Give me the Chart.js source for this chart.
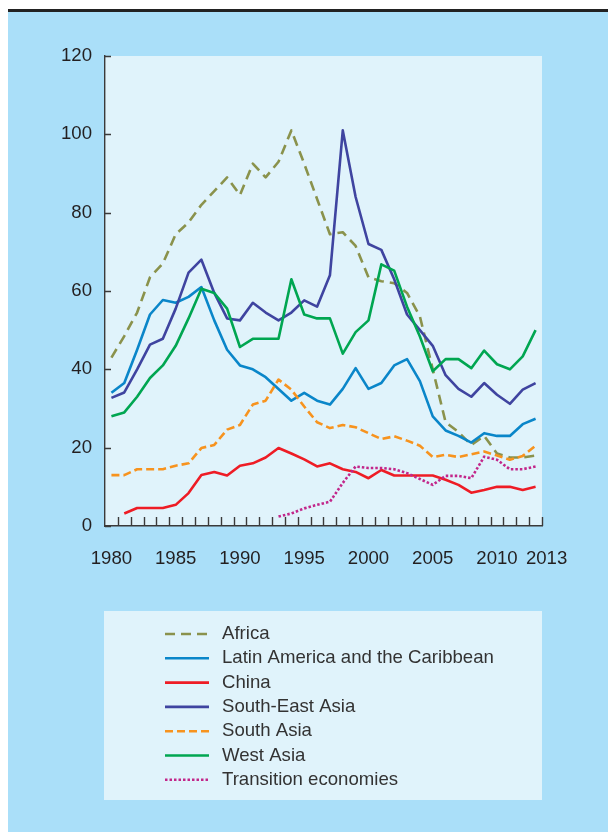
<!DOCTYPE html>
<html>
<head>
<meta charset="utf-8">
<script src="https://cdn.jsdelivr.net/npm/chart.js@4.4.1/dist/chart.umd.min.js"></script>
<style>
html, body { margin: 0; padding: 0; background: #ffffff; }
canvas { display: block; }
</style>
</head>
<body>
<canvas id="chart" width="608" height="832"></canvas>
<script>
const years = ['1980','1981','1982','1983','1984','1985','1986','1987','1988','1989',
               '1990','1991','1992','1993','1994','1995','1996','1997','1998','1999',
               '2000','2001','2002','2003','2004','2005','2006','2007','2008','2009',
               '2010','2011','2012','2013'];
const xTickLabels = ['1980','1985','1990','1995','2000','2005','2010','2013'];
const yTicks = [0, 20, 40, 60, 80, 100, 120];

const africa = [43, 48.5, 54.5, 63.5, 67, 74.5, 77.5, 82, 85.5, 89,
                84.5, 92.5, 89, 93, 101, 92.5, 83.5, 74.5, 75, 71.5,
                63.5, 62.5, 62, 59.5, 53.5, 40, 26.5, 24, 20.7, 23,
                18.5, 17.5, 17.5, 18];
const latinAmerica = [34, 36.5, 45, 54, 57.7, 57, 58.5, 61, 52.5, 45,
                      41, 40, 38, 35, 32, 34, 32, 31, 35, 40.3,
                      35, 36.5, 41, 42.6, 37, 28, 24.4, 23, 21.3, 23.7,
                      23, 23, 26, 27.4];
const china = [null, 3.2, 4.6, 4.6, 4.6, 5.4, 8.4, 13, 13.8, 12.9,
               15.4, 16, 17.5, 19.9, 18.5, 17, 15.2, 16, 14.5, 13.8,
               12.2, 14.3, 12.9, 12.9, 12.9, 12.9, 11.8, 10.5, 8.5, 9.2,
               10, 10, 9.2, 10];
const southEastAsia = [32.7, 34.1, 40, 46.3, 47.8, 55.5, 64.7, 68, 59.5, 53,
                       52.5, 57, 54.5, 52.5, 54.5, 57.6, 56, 64, 101, 84,
                       72, 70.5, 63, 54, 50, 46, 38.5, 35, 33, 36.5,
                       33.5, 31.2, 34.8, 36.5];
const southAsia = [13, 13, 14.5, 14.5, 14.5, 15.4, 16, 19.9, 20.7, 24.6,
                   25.8, 31, 32, 37.4, 34.8, 30.5, 26.5, 25, 25.8, 25.2,
                   23.7, 22.2, 22.9, 21.8, 20.5, 17.6, 18.2, 17.6, 18.3, 19,
                   18, 16.9, 17.9, 20.5];
const westAsia = [28, 29, 33, 37.8, 41, 46, 53, 60.6, 59.5, 55.5,
                  45.7, 47.8, 47.8, 47.8, 63, 54, 53, 53, 44, 49.5,
                  52.5, 66.8, 65.2, 56, 48.4, 39.5, 42.6, 42.6, 40.3, 44.8,
                  41.3, 40, 43.3, 50];
const transition = [null, null, null, null, null, null, null, null, null, null,
                    null, null, null, 2.4, 3.2, 4.5, 5.4, 6.2, 11, 15.2,
                    14.8, 14.8, 14.5, 13.5, 12, 10.5, 12.8, 12.8, 12.2, 17.7,
                    16.9, 14.5, 14.5, 15.2];

const FONT = "'Liberation Sans', Arial, sans-serif";
const FONT_SIZE = 18.6;
const OUTER_BG = '#aadff9';
const INNER_BG = '#e0f3fb';
const AXIS = '#3a3a3a';

function series(label, data, color, dash, order) {
    return {
        label: label,
        data: data,
        borderColor: color,
        backgroundColor: color,
        borderWidth: 2.6,
        borderDash: dash,
        borderJoinStyle: 'round',
        pointRadius: 0,
        tension: 0,
        fill: false,
        order: order
    };
}

// backgrounds, axis ticks, x labels and legend
const decor = {
    id: 'decor',
    beforeDraw(chart) {
        const ctx = chart.ctx;
        const a = chart.chartArea;
        ctx.save();
        ctx.fillStyle = '#ffffff';
        ctx.fillRect(0, 0, chart.width, chart.height);
        ctx.fillStyle = OUTER_BG;
        ctx.fillRect(8, 12, chart.width - 8, chart.height - 12);
        ctx.fillStyle = '#222222';
        ctx.fillRect(8, 9, chart.width - 8, 3);
        ctx.fillStyle = INNER_BG;
        ctx.fillRect(a.left, a.top, a.right - a.left, a.bottom - a.top);
        ctx.fillRect(104, 611, a.right - 104, 189);
        ctx.restore();
    },
    afterDraw(chart) {
        const ctx = chart.ctx;
        const x = chart.scales.x;
        const y = chart.scales.y;
        ctx.save();
        ctx.strokeStyle = AXIS;
        ctx.lineWidth = 1.4;
        ctx.beginPath();
        yTicks.forEach(v => {
            const py = Math.round(y.getPixelForValue(v)) + 0.5;
            ctx.moveTo(x.left, py);
            ctx.lineTo(x.left + 6, py);
        });
        const band = x.getPixelForValue(1) - x.getPixelForValue(0);
        for (let i = 1; i <= years.length; i++) {
            const px = Math.round(x.getPixelForValue(i) - band / 2) + 0.5;
            ctx.moveTo(px, y.bottom);
            ctx.lineTo(px, y.bottom - 9);
        }
        ctx.stroke();

        ctx.fillStyle = '#231f20';
        ctx.font = FONT_SIZE + 'px ' + FONT;
        ctx.textAlign = 'center';
        ctx.textBaseline = 'middle';
        xTickLabels.forEach(lab => {
            let px = x.getPixelForValue(years.indexOf(lab));
            if (lab === '2013') px += 11;
            ctx.fillText(lab, px, y.bottom + 33);
        });

        // legend
        ctx.textAlign = 'left';
        ctx.fillStyle = '#333333';
        chart.data.datasets.forEach((ds, i) => {
            const ly = 634 + i * 24.3;
            ctx.strokeStyle = ds.borderColor;
            ctx.lineWidth = ds.borderWidth;
            ctx.setLineDash(ds.borderDash || []);
            ctx.beginPath();
            ctx.moveTo(165, ly);
            ctx.lineTo(209, ly);
            ctx.stroke();
            ctx.setLineDash([]);
            ctx.fillText(ds.label, 222, ly);
        });
        ctx.restore();
    }
};

const data = {
    labels: years,
    datasets: [
        series('Africa', africa, '#8a924c', [10, 6], 6),
        series('Latin America and the Caribbean', latinAmerica, '#0a86c9', [], 5),
        series('China', china, '#ee1c25', [], 4),
        series('South-East Asia', southEastAsia, '#3f44a0', [], 3),
        series('South Asia', southAsia, '#f7931e', [8, 4], 2),
        series('West Asia', westAsia, '#00a651', [], 1),
        series('Transition economies', transition, '#c2268a', [2.5, 2], 0)
    ]
};

const config = {
    type: 'line',
    data: data,
    options: {
        responsive: false,
        animation: false,
        devicePixelRatio: 1,
        layout: {
            padding: { left: 0, top: 56, right: 66, bottom: 0 }
        },
        scales: {
            x: {
                type: 'category',
                offset: true,
                grid: { display: false },
                border: { display: true, color: AXIS, width: 1.4 },
                ticks: { display: false },
                afterFit(scale) { scale.height = 306; }
            },
            y: {
                min: 0,
                max: 120,
                grid: { display: false, drawTicks: false },
                border: { display: true, color: AXIS, width: 1.4 },
                ticks: {
                    stepSize: 20,
                    padding: 13,
                    color: '#231f20',
                    font: { family: FONT, size: FONT_SIZE }
                },
                afterFit(scale) { scale.width = 105; }
            }
        },
        plugins: {
            legend: { display: false },
            tooltip: { enabled: false },
            title: { display: false }
        }
    },
    plugins: [decor]
};

var myChart = new Chart(
    document.getElementById('chart').getContext('2d'),
    config
);
</script>
</body>
</html>
